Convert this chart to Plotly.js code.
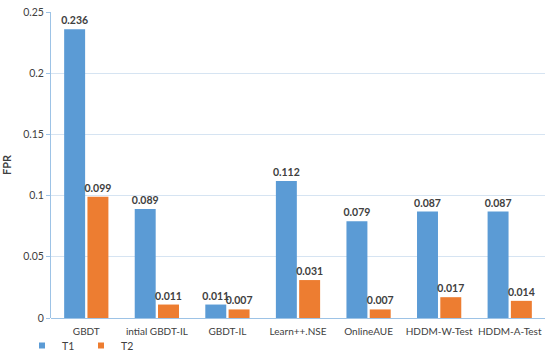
<!DOCTYPE html>
<html><head><meta charset="utf-8">
<script src="https://cdn.plot.ly/plotly-3.0.1.min.js"></script>
<style>html,body{margin:0;padding:0;background:#fff}#chart{width:550px;height:360px}</style>
</head><body><div id="chart"></div>
<script>
const categories = ["GBDT", "intial GBDT-IL", "GBDT-IL", "Learn++.NSE", "OnlineAUE", "HDDM-W-Test", "HDDM-A-Test"];
const t1 = [0.236, 0.089, 0.011, 0.112, 0.079, 0.087, 0.087];
const t2 = [0.099, 0.011, 0.007, 0.031, 0.007, 0.017, 0.014];
const yTicks = [0, 0.05, 0.1, 0.15, 0.2, 0.25];
const yTickText = ["0", "0.05", "0.1", "0.15", "0.2", "0.25"];
const seriesNames = ["T1", "T2"];
const colors = ["#5B9BD5", "#ED7D31"];

const ff = "Lato, Open Sans, sans-serif";
const txt = "#404040";
function trace(name, vals, color) {
  return {
    type: "bar", name: name, x: categories, y: vals,
    marker: {color: color}, showlegend: false,
    text: vals.map(v => "<b>" + v.toFixed(3) + "</b>"),
    textposition: "outside", cliponaxis: false, constraintext: "none",
    textfont: {family: ff, size: 10.5, color: txt},
    hoverinfo: "skip"
  };
}
const data = [trace(seriesNames[0], t1, colors[0]), trace(seriesNames[1], t2, colors[1])];
seriesNames.forEach((n, i) => data.push({
  type: "scatter", mode: "markers", name: n, x: [null], y: [null],
  marker: {symbol: "square", size: 6, color: colors[i]}, showlegend: true, hoverinfo: "skip"
}));
const layout = {
  width: 550, height: 360,
  margin: {l: 51, r: 5, t: 12, b: 42},
  paper_bgcolor: "#fff", plot_bgcolor: "#fff",
  font: {family: ff, size: 10.5, color: txt},
  barmode: "group", bargap: 0.34, bargroupgap: 0.1,
  showlegend: true,
  legend: {orientation: "h", xref: "container", yref: "container", x: 0.04, y: 0.0, xanchor: "left", yanchor: "bottom",
           bgcolor: "rgba(0,0,0,0)", font: {family: ff, size: 10.5, color: txt}, itemwidth: 30, tracegroupgap: 0,
           entrywidth: 14, entrywidthmode: "pixels"},
  xaxis: {showgrid: false, showline: false, ticks: "outside", ticklen: 4, tickcolor: "rgba(0,0,0,0)", tickangle: 0,
          tickfont: {family: ff, size: 10, color: txt}},
  yaxis: {range: [0, 0.25], tickvals: yTicks, ticktext: yTickText, showgrid: true, gridcolor: "#D6E4F2",
          showline: true, linecolor: "#9DC3E6", zeroline: true, zerolinecolor: "#9DC3E6", ticks: "outside", ticklen: 4, tickcolor: "#9DC3E6",
          tickfont: {family: ff, size: 10.5, color: txt},
          title: {text: "<b>FPR</b>", font: {family: ff, size: 11, color: txt}, standoff: 14}}
};
Plotly.newPlot("chart", data, layout, {displayModeBar: false, staticPlot: true});
</script></body></html>
